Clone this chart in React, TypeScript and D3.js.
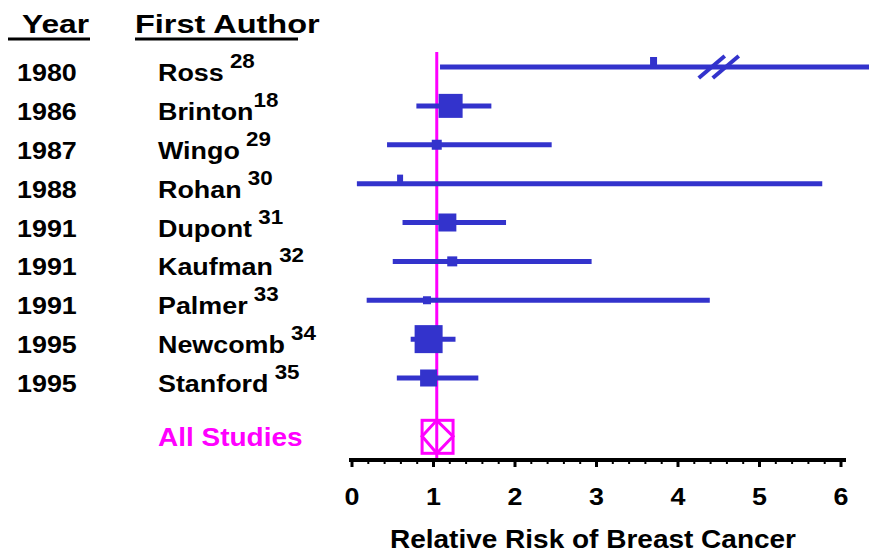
import React from 'react';
import * as d3 from 'd3';

// study rows, top to bottom
const years = ['1980', '1986', '1987', '1988', '1991', '1991', '1991', '1995', '1995'];
const authors = ['Ross', 'Brinton', 'Wingo', 'Rohan', 'Dupont', 'Kaufman', 'Palmer', 'Newcomb', 'Stanford'];
const refs = [' 28', '18', ' 29', ' 30', ' 31', ' 32', ' 33', ' 34', ' 35'];
const estimates = [3.7, 1.21, 1.04, 0.59, 1.17, 1.23, 0.92, 0.94, 0.94];
const lowerCI = [1.08, 0.79, 0.43, 0.06, 0.62, 0.5, 0.18, 0.72, 0.55];
const upperCI = [6.4, 1.71, 2.45, 5.77, 1.89, 2.94, 4.39, 1.27, 1.55];
const weights = [7, 24, 10, 6, 18, 10, 8, 28, 17];
const breaks = [4.5, null, null, null, null, null, null, null, null];

// pooled estimate
const pooledLabel = 'All Studies';
const pooledEstimate = 1.04;
const pooledCI = [0.86, 1.24];

const xTicks = [0, 1, 2, 3, 4, 5, 6];
const xTitle = 'Relative Risk of Breast Cancer';

const W = 869, H = 554;
const BLUE = '#3333cc';
const MAGENTA = '#ff00ff';
const FONT = 'Arial, "Liberation Sans", sans-serif';
const SX = 1.12; // text in the original is slightly wide

export default function App() {
  const x = d3.scaleLinear().domain([0, 6]).range([352, 841]);
  const y = d3.scaleLinear().domain([0, 8]).range([67, 378]);
  const pooledY = y(9.5);
  const axisY = 460;
  const minor = d3.range(0, 6.001, 0.2);

  const wide = (tx: number, ty: number, sx = SX) => `translate(${tx},${ty}) scale(${sx},1)`;

  return (
    <svg width={W} height={H} style={{ position: 'absolute', left: 0, top: 0, background: '#fff' }}
      fontFamily={FONT} fontWeight="bold">
      {/* headers */}
      <text transform={wide(22, 33, 1.22)} fontSize={26}>Year</text>
      <line x1={8} x2={90} y1={39} y2={39} stroke="#000" strokeWidth={3} />
      <text transform={wide(135, 33, 1.25)} fontSize={26}>First Author</text>
      <line x1={135} x2={298} y1={39} y2={39} stroke="#000" strokeWidth={3} />

      {/* row labels */}
      {years.map((yr, i) => (
        <g key={'lab' + i}>
          <text transform={wide(17, y(i) + 14)} fontSize={24}>{yr}</text>
          <text transform={wide(158, y(i) + 14)} fontSize={24} xmlSpace="preserve">
            {authors[i]}
            <tspan dy={-13} fontSize={20}>{refs[i]}</tspan>
          </text>
        </g>
      ))}
      <text transform={wide(158, pooledY + 10)} fontSize={25} fill={MAGENTA}>{pooledLabel}</text>

      {/* reference line at pooled estimate */}
      <line x1={x(pooledEstimate)} x2={x(pooledEstimate)} y1={52} y2={axisY} stroke={MAGENTA} strokeWidth={3} />

      {/* study CIs and point estimates */}
      {estimates.map((est, i) => {
        const s = weights[i];
        const cy = y(i);
        const small = s < 8;
        return (
          <g key={'row' + i}>
            <line x1={x(lowerCI[i])} x2={x(upperCI[i])} y1={cy} y2={cy} stroke={BLUE} strokeWidth={5} />
            <rect x={x(est) - s / 2} y={small ? cy - s - 3 : cy - s / 2} width={s} height={small ? s + 3 : s} fill={BLUE} />
            {breaks[i] != null && [-7, 7].map(o => (
              <line key={o} x1={x(breaks[i] as number) + o - 13} x2={x(breaks[i] as number) + o + 13}
                y1={cy + 11} y2={cy - 11} stroke={BLUE} strokeWidth={4} />
            ))}
          </g>
        );
      })}

      {/* pooled box with diamond */}
      <rect x={x(pooledCI[0])} y={pooledY - 16} width={x(pooledCI[1]) - x(pooledCI[0])} height={33}
        fill="none" stroke={MAGENTA} strokeWidth={3} />
      <path d={`M${x(pooledCI[0])},${pooledY} L${x(pooledEstimate)},${pooledY - 16} L${x(pooledCI[1])},${pooledY} L${x(pooledEstimate)},${pooledY + 17} Z`}
        fill="none" stroke={MAGENTA} strokeWidth={3} />

      {/* x axis */}
      <line x1={349} x2={846} y1={axisY} y2={axisY} stroke="#000" strokeWidth={4} />
      {minor.map((v, i) => (
        <line key={'mn' + i} x1={x(v)} x2={x(v)} y1={axisY} y2={axisY + 4} stroke="#000" strokeWidth={2} />
      ))}
      {xTicks.map(t => (
        <g key={'tk' + t}>
          <line x1={x(t)} x2={x(t)} y1={axisY} y2={axisY + 7} stroke="#000" strokeWidth={3} />
          <text transform={wide(x(t), 505)} fontSize={24} textAnchor="middle">{t}</text>
        </g>
      ))}
      <text transform={wide(593, 548)} fontSize={25} textAnchor="middle">{xTitle}</text>
    </svg>
  );
}
